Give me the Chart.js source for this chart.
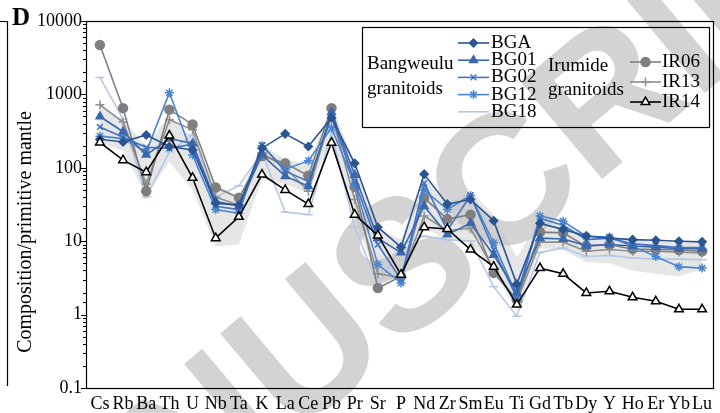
<!DOCTYPE html>
<html>
<head>
<meta charset="utf-8">
<script src="https://cdn.jsdelivr.net/npm/chart.js@4"></script>
<style>
  body { margin: 0; background: #fff; }
  #wrap { width: 720px; height: 413px; position: relative; }
</style>
</head>
<body>
<div id="wrap"><canvas id="spiderChart"></canvas></div>
<script>
// elements on the x axis
var elements = ['Cs','Rb','Ba','Th','U','Nb','Ta','K','La','Ce','Pb','Pr','Sr','P','Nd','Zr','Sm','Eu','Ti','Gd','Tb','Dy','Y','Ho','Er','Yb','Lu'];

// Bangweulu granitoids
var bga  = [245, 225, 280, 195, 175, 33, 31, 185, 290, 195, 480, 115, 15.5, 8.3, 82, 32, 37, 19, 2.6, 17.5, 14.5, 11.8, 11, 10.5, 10.3, 10, 9.8];
var bg01 = [500, 310, 150, 250, 215, 35, 30, 150, 77, 56, 570, 80, 11, 7, 30, 12.3, 17.5, 6.5, 2.0, 11, 10.7, 8.7, 9, 8.6, 8.3, 7.9, 7.9];
var bg02 = [360, 260, 190, 185, 210, 30, 27, 205, 90, 65, 500, 65, 9, 3, 62, 14, 42, 7.7, 1.7, 20.5, 16.5, 10.5, 11, 9.2, 8.7, 8.2, 8.2];
var bg12 = [270, 250, 165, 1050, 150, 27, 24, 200, 95, 125, 350, 60, 4.8, 2.7, 50, 27, 42, 9.5, 1.8, 22, 18.7, 11.7, 11.4, 8.5, 6.2, 4.5, 4.3];
var bg18 = [1700, 460, 40, 165, 280, 40, 57, 160, 25, 23, 300, 15.6, 2.5, 9, 11.7, 10.5, 10, 2.4, 0.95, 7, 8.1, 6.2, 6.4, 5.9, 5.7, 5.7, 5.6];

// Irumide granitoids
var ir06 = [4700, 650, 48, 620, 390, 54, 39, 145, 115, 78, 650, 55, 2.3, 3.3, 39, 20, 23, 3.7, 1.6, 13.3, 13, 8.5, 9, 7.8, 7.7, 7.6, 7.3];
var ir13 = [720, 420, 60, 450, 330, 40, 31, 160, 100, 48, 530, 37, 3.6, 3.2, 22, 14, 15, 4.2, 1.5, 9.7, 9.7, 7.3, 7.7, 7.3, 7.3, 7.1, 6.9];
var ir14 = [222, 127, 87, 275, 73, 11, 21.5, 81, 50, 32, 220, 23, 12, 3.5, 15.5, 14.7, 7.7, 4.5, 1.37, 4.3, 3.6, 1.97, 2.08, 1.72, 1.52, 1.18, 1.18];

// grey field behind the samples
var fieldTop    = [700, 450, 200, 520, 250, 60, 40, 210, 130, 110, 700, 120, 15, 10.5, 80, 33, 48, 23, 6, 20, 17, 12, 11.5, 10.5, 10, 9.5, 9.5];
var fieldBottom = [220, 170, 42, 120, 50, 8.5, 9, 70, 60, 45, 250, 22, 2.8, 3.2, 16, 10, 10, 4, 1.1, 8, 7.5, 5.2, 5, 4, 3.6, 3.3, 4.2];

var serif = '"Liberation Serif", "Times New Roman", serif';

function pts(arr) {
    return arr.map(function (v, i) { return { x: i, y: v }; });
}

function series(label, arr, color, style, radius, fill, order) {
    return {
        label: label,
        data: pts(arr),
        borderColor: color,
        backgroundColor: fill,
        pointBorderColor: color,
        pointBackgroundColor: fill,
        pointStyle: style,
        pointRadius: radius,
        pointBorderWidth: 1.5,
        borderWidth: 1.6,
        tension: 0,
        fill: false,
        order: order
    };
}

var datasets = [
    { label: 'fieldTop', data: pts(fieldTop), borderWidth: 0, pointRadius: 0, fill: false, order: 20, borderColor: 'rgba(0,0,0,0)' },
    { label: 'fieldBottom', data: pts(fieldBottom), borderWidth: 0, pointRadius: 0, fill: '-1', order: 19,
      borderColor: 'rgba(0,0,0,0)', backgroundColor: 'rgba(200,200,200,0.45)' },
    series('BG18', bg18, '#b4c7e7', 'line', 4.5, '#b4c7e7', 9),
    series('IR13', ir13, '#8f8f8f', 'cross', 4.5, '#8f8f8f', 8),
    series('IR06', ir06, '#7f7f7f', 'circle', 4.5, '#7f7f7f', 7),
    series('BG12', bg12, '#4a86d0', 'star', 4.5, '#4a86d0', 6),
    series('BG02', bg02, '#4472c4', 'crossRot', 4, '#4472c4', 5),
    series('BG01', bg01, '#3a68ad', 'triangle', 4.5, '#3a68ad', 4),
    series('BGA', bga, '#2b5592', 'rectRot', 4, '#2b5592', 3),
    series('IR14', ir14, '#000000', 'triangle', 5, '#ffffff', 1)
];

var legendItems = {
    bg: [
        ['BGA', '#2b5592', 'rectRot', 4, '#2b5592'],
        ['BG01', '#3a68ad', 'triangle', 4.5, '#3a68ad'],
        ['BG02', '#4472c4', 'crossRot', 4, '#4472c4'],
        ['BG12', '#4a86d0', 'star', 4.5, '#4a86d0'],
        ['BG18', '#b4c7e7', 'line', 0, '#b4c7e7']
    ],
    ir: [
        ['IR06', '#7f7f7f', 'circle', 4.5, '#7f7f7f'],
        ['IR13', '#8f8f8f', 'cross', 4.5, '#8f8f8f'],
        ['IR14', '#000000', 'triangle', 5, '#ffffff']
    ]
};

function marker(ctx, style, r, x, y, color, fill) {
    ctx.save();
    ctx.strokeStyle = color;
    ctx.fillStyle = fill;
    ctx.lineWidth = 1.5;
    if (r > 0) {
        Chart.helpers.drawPoint(ctx, { pointStyle: style, radius: r, rotation: 0, borderWidth: 1.5 }, x, y);
    }
    ctx.restore();
}

var decorPlugin = {
    id: 'decor',
    beforeDraw: function (chart) {
        var ctx = chart.ctx;
        // watermark
        ctx.save();
        ctx.translate(312, 356);
        ctx.rotate(-40 * Math.PI / 180);
        ctx.font = 'bold 185px "Liberation Sans", Arial, sans-serif';
        ctx.fillStyle = 'rgba(200,200,200,0.8)';
        ctx.textBaseline = 'middle';
        var pre = ctx.measureText('MAN').width + ctx.measureText('U').width / 2;
        ctx.fillText('MANUSCRIPT', -pre, 0);
        ctx.restore();
    },
    afterDraw: function (chart) {
        var ctx = chart.ctx;
        var a = chart.chartArea;
        var y = chart.scales.y;
        ctx.save();
        // frame
        ctx.strokeStyle = '#000';
        ctx.lineWidth = 1.2;
        ctx.strokeRect(a.left + 0.5, a.top + 0.5, a.right - a.left, a.bottom - a.top);
        // y ticks, long on decades, short between
        y.ticks.forEach(function (t) {
            var p = Math.round(y.getPixelForValue(t.value)) + 0.5;
            var l = Math.log10(t.value);
            var major = Math.abs(l - Math.round(l)) < 1e-6;
            ctx.beginPath();
            ctx.moveTo(a.left, p);
            ctx.lineTo(a.left - (major ? 5 : 3), p);
            ctx.lineWidth = 1;
            ctx.stroke();
        });
        // neighbouring panel edge
        ctx.beginPath();
        ctx.moveTo(0, a.top + 0.5);
        ctx.lineTo(7.5, a.top + 0.5);
        ctx.lineTo(7.5, a.bottom - 2);
        ctx.lineWidth = 1.2;
        ctx.stroke();
        // panel letter
        ctx.fillStyle = '#000';
        ctx.font = 'bold 25px ' + serif;
        ctx.textBaseline = 'alphabetic';
        ctx.fillText('D', 12, 25);
        // y title
        ctx.save();
        ctx.translate(26, 232);
        ctx.rotate(-Math.PI / 2);
        ctx.font = '20px ' + serif;
        ctx.textAlign = 'center';
        ctx.textBaseline = 'middle';
        ctx.fillText('Composition/primitive mantle', 0, 0);
        ctx.restore();
        // legend box
        ctx.strokeStyle = '#000';
        ctx.lineWidth = 1.2;
        ctx.strokeRect(362.5, 27.5, 347, 100);
        ctx.font = '19px ' + serif;
        ctx.textBaseline = 'middle';
        ctx.fillStyle = '#000';
        ctx.fillText('Bangweulu', 367, 64);
        ctx.fillText('granitoids', 367, 89);
        ctx.fillText('Irumide', 548, 66);
        ctx.fillText('granitoids', 548, 90);
        legendItems.bg.forEach(function (it, i) {
            var ly = 43 + i * 17.2;
            ctx.strokeStyle = it[1];
            ctx.lineWidth = 1.6;
            ctx.beginPath();
            ctx.moveTo(458, ly);
            ctx.lineTo(489, ly);
            ctx.stroke();
            marker(ctx, it[2], it[3], 473.5, ly, it[1], it[4]);
            ctx.fillStyle = '#000';
            ctx.fillText(it[0], 491, ly);
        });
        legendItems.ir.forEach(function (it, i) {
            var ly = 62 + i * 20;
            ctx.strokeStyle = it[1];
            ctx.lineWidth = 1.6;
            ctx.beginPath();
            ctx.moveTo(630, ly);
            ctx.lineTo(661, ly);
            ctx.stroke();
            marker(ctx, it[2], it[3], 645.5, ly, it[1], it[4]);
            ctx.fillStyle = '#000';
            ctx.fillText(it[0], 662, ly);
        });
        ctx.restore();
    }
};

var ctx = document.getElementById('spiderChart').getContext('2d');
var spiderChart = new Chart(ctx, {
    type: 'line',
    data: { datasets: datasets },
    options: {
        responsive: true,
        maintainAspectRatio: false,
        animation: false,
        layout: { padding: { top: 21, right: 7, left: 0, bottom: 0 } },
        plugins: {
            legend: { display: false },
            tooltip: { enabled: false },
            filler: { propagate: false }
        },
        scales: {
            x: {
                type: 'linear',
                min: -0.6,
                max: 26.47,
                grid: { display: false, drawTicks: false },
                border: { display: false },
                afterFit: function (s) { s.height = 25; },
                ticks: {
                    stepSize: 1,
                    includeBounds: false,
                    autoSkip: false,
                    maxRotation: 0,
                    padding: 5,
                    color: '#000',
                    font: { family: serif, size: 18 },
                    callback: function (v) {
                        return Number.isInteger(v) ? elements[v] : undefined;
                    }
                }
            },
            y: {
                type: 'logarithmic',
                min: 0.1,
                max: 10000,
                grid: { display: false, drawTicks: false },
                border: { display: false },
                afterFit: function (s) { s.width = 86; },
                ticks: {
                    autoSkip: false,
                    padding: 4,
                    color: '#000',
                    font: { family: serif, size: 18 },
                    callback: function (v) {
                        var l = Math.log10(v);
                        if (Math.abs(l - Math.round(l)) < 1e-6) {
                            return v < 1 ? '0.1' : String(Math.round(v));
                        }
                        return '';
                    }
                }
            }
        }
    },
    plugins: [decorPlugin]
});
</script>
</body>
</html>
